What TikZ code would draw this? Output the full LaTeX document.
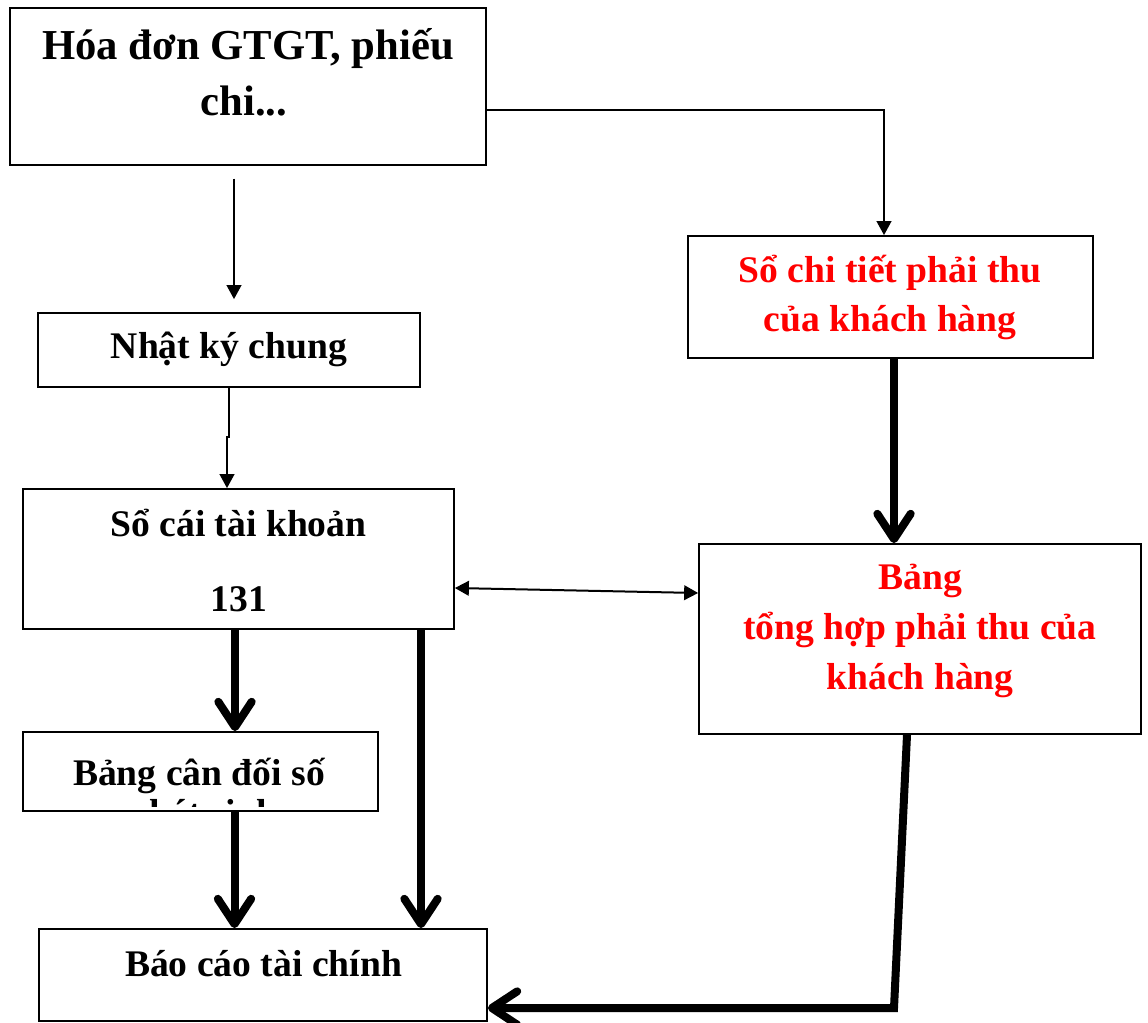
\documentclass[tikz,border=0pt]{standalone}
\usepackage{fontspec}
\setmainfont{Liberation Serif}
\usetikzlibrary{arrows.meta}

\begin{document}
\begin{tikzpicture}[x=0.75pt,y=-0.75pt,
  box/.style={draw=black,line width=1.3pt,rectangle,inner sep=0pt,fill=white},
  txt/.style={anchor=base,inner sep=0pt,font=\fontsize{28.2}{34}\selectfont\bfseries},
  bigtxt/.style={anchor=base,inner sep=0pt,font=\fontsize{32}{38}\selectfont\bfseries},
  redtxt/.style={txt,text=red},
  thinarr/.style={line width=1.5pt,-{Triangle[length=10.5pt,width=11pt]}},
  dblarr/.style={line width=1.5pt,{Triangle[length=10.5pt,width=11pt]}-{Triangle[length=10.5pt,width=11pt]}},
  heavyarr/.style={line width=6pt,-{Straight Barb[length=19pt,width=25pt,round]}},
  heavyline/.style={line width=6pt}
]
\useasboundingbox (0,0) rectangle (1148,1023);

% boxes
\node[box,minimum width=357pt,minimum height=117.75pt] (A) at (248,86.5) {};
\node[box,minimum width=286.5pt,minimum height=55.5pt] (B) at (229,350) {};
\node[box,minimum width=323.25pt,minimum height=105pt] (C) at (238.5,559) {};
\node[box,minimum width=266.25pt,minimum height=59.25pt] (D) at (200.5,771.5) {};
\node[box,minimum width=336pt,minimum height=69pt] (E) at (263,975) {};
\node[box,minimum width=303.75pt,minimum height=91.5pt] (F) at (890.5,297) {};
\node[box,minimum width=331.5pt,minimum height=142.5pt] (G) at (920,639) {};

% box texts
\node[bigtxt] (A1) at (248,60) {Hóa đơn GTGT, phiếu};
\node[bigtxt] (A2) at (244,116) {chi...};
\node[txt] (B1) at (229,358) {Nhật ký chung};
\node[txt] (C1) at (238.5,536) {Sổ cái tài khoản};
\node[txt] (C2) at (239,611) {131};
\node[txt] (D1) at (199,785) {Bảng cân đối số};
\begin{scope}
  \clip ([yshift=3.75pt]D.south west) rectangle (D.north east);
  \node[txt] (D2) at (203,825) {phát sinh};
\end{scope}
\node[txt] (E1) at (263.5,976) {Báo cáo tài chính};
\node[redtxt] (F1) at (890,283) {Sổ chi tiết phải thu};
\node[redtxt] (F2) at (890,331) {của khách hàng};
\node[redtxt] (G1) at (920,589) {Bảng};
\node[redtxt] (G2) at (920,639) {tổng hợp phải thu của};
\node[redtxt] (G3) at (920,689) {khách hàng};

% reference columns and rows for the connectors
\coordinate (xa) at (234,0);
\coordinate (xb1) at (229,0);
\coordinate (xb2) at (227,0);
\coordinate (yb) at (0,437);
\coordinate (ya) at (0,110);
\coordinate (xf) at (884,0);
\coordinate (yc) at (0,588);
\coordinate (yg) at (0,593);
\coordinate (xfg) at (894,0);
\coordinate (xcd) at (235,0);
\coordinate (xce) at (421,0);
\coordinate (xde) at (234.5,0);
\coordinate (xge) at (907,0);
\coordinate (gbend) at (894,1008);

% thin connectors
\draw[thinarr,shorten <=9.5pt,shorten >=9.75pt] (A.south -| xa) -- (B.north -| xa);
\draw[thinarr] (A.east |- ya) -| (F.north -| xf);
\draw[thinarr] (B.south -| xb1) -- (xb1 |- yb) -- (xb2 |- yb) -- (C.north -| xb2);
\draw[dblarr] (C.east |- yc) -- (G.west |- yg);

% heavy connectors
\draw[heavyarr] (F.south -| xfg) -- (G.north -| xfg);
\draw[heavyarr] (C.south -| xcd) -- (D.north -| xcd);
\draw[heavyarr] (C.south -| xce) -- (E.north -| xce);
\draw[heavyarr] (D.south -| xde) -- (E.north -| xde);
\draw[heavyarr] (G.south -| xge) -- (gbend) -- (E.east |- gbend);
\end{tikzpicture}
\end{document}
